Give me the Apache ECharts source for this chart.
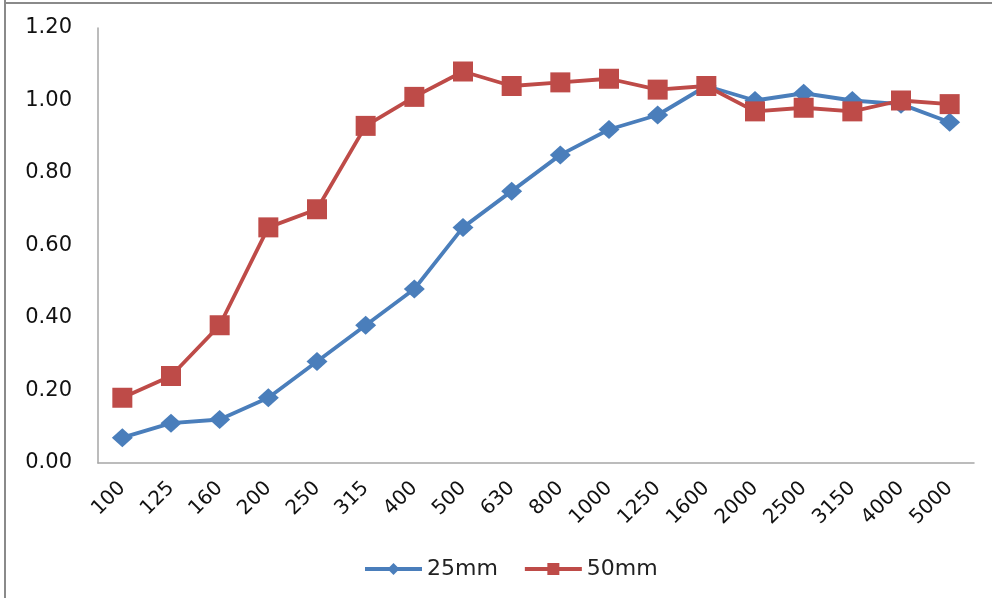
<!DOCTYPE html>
<html><head><meta charset="utf-8">
<script src="https://cdn.jsdelivr.net/npm/echarts@6/dist/echarts.min.js"></script>
<style>html,body{margin:0;padding:0;background:#fff;}#c{width:992px;height:598px;}</style>
</head><body><div id="c"></div>
<script>
const categories = ['100','125','160','200','250','315','400','500','630','800','1000','1250','1600','2000','2500','3150','4000','5000'];
const s25 = [0.07,0.11,0.12,0.18,0.28,0.38,0.48,0.65,0.75,0.85,0.92,0.96,1.04,1.00,1.02,1.00,0.99,0.94];
const s50 = [0.18,0.24,0.38,0.65,0.70,0.93,1.01,1.08,1.04,1.05,1.06,1.03,1.04,0.97,0.98,0.97,1.00,0.99];
const yTicks = {min:0, max:1.2, interval:0.2};
const chart = echarts.init(document.getElementById('c'));
chart.setOption({
  animation:false,
  graphic:[
    {type:'line',shape:{x1:5,y1:0,x2:5,y2:598},style:{stroke:'#8a8a8a',lineWidth:2}},
    {type:'line',shape:{x1:4,y1:3,x2:992,y2:3},style:{stroke:'#8a8a8a',lineWidth:2}}
  ],
  grid:{left:98,right:18,top:28,bottom:135},
  legend:{top:553,left:358,itemWidth:57,itemHeight:15,itemGap:25,
    lineStyle:{width:4},
    textStyle:{fontFamily:'DejaVu Sans',fontSize:22,color:'#222'},
    data:['25mm','50mm']},
  xAxis:{type:'category',data:categories,boundaryGap:true,
    axisLine:{lineStyle:{color:'#a6a6a6',width:1.5}},axisTick:{show:false},
    axisLabel:{rotate:45,fontFamily:'DejaVu Sans',fontSize:20,color:'#111',margin:22,interval:0}},
  yAxis:{type:'value',min:yTicks.min,max:yTicks.max,interval:yTicks.interval,
    axisLine:{show:true,lineStyle:{color:'#a6a6a6',width:1.5}},axisTick:{show:false},
    splitLine:{show:false},
    axisLabel:{formatter:v=>v.toFixed(2),fontFamily:'DejaVu Sans',fontSize:21,color:'#111',margin:26}},
  series:[
    {name:'25mm',type:'line',data:s25,symbol:'diamond',symbolSize:[21,19],
     lineStyle:{color:'#4a7ebb',width:3.8},itemStyle:{color:'#4a7ebb'}},
    {name:'50mm',type:'line',data:s50,symbol:'rect',symbolSize:20,
     lineStyle:{color:'#be4b48',width:3.8},itemStyle:{color:'#be4b48'}}
  ]
});
</script></body></html>
